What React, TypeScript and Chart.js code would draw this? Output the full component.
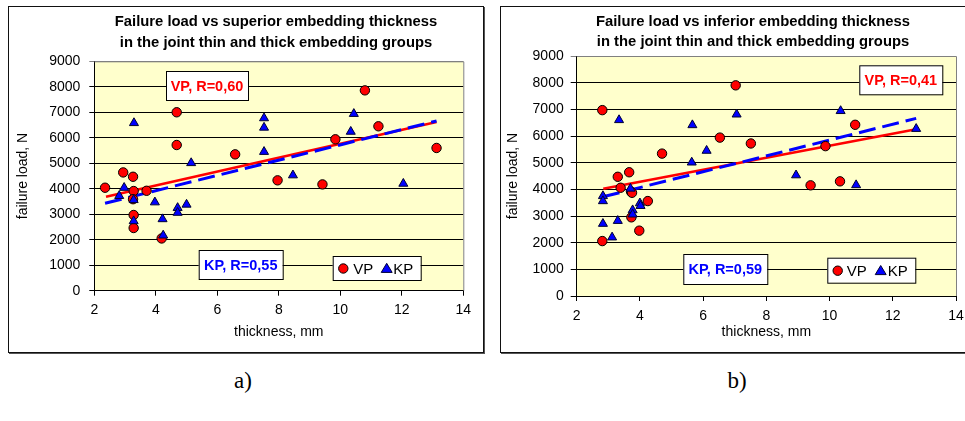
import React, { useEffect, useRef } from "react";
import { Chart, registerables } from "chart.js";

Chart.register(...registerables);

// ---------- shared axis ----------
const xMin = 2;
const xMax = 14;
const xStep = 2;
const yMin = 0;
const yMax = 9000;
const yStep = 1000;

// ---------- a) superior embedding thickness ----------
const supVpThickness = [2.35, 2.94, 3.26, 3.28, 3.26, 3.28, 3.28, 3.7, 4.19, 4.68, 4.68, 6.58, 7.96, 9.42, 9.84, 10.8, 11.24, 13.13];
const supVpLoad = [4040, 4640, 4470, 3910, 3590, 2970, 2460, 3920, 2050, 7000, 5716, 5350, 4330, 4170, 5940, 7860, 6450, 5600];
const supKpThickness = [3.29, 7.52, 7.52, 7.52, 10.44, 10.34, 2.81, 2.97, 3.28, 3.28, 3.97, 4.22, 4.24, 4.71, 4.71, 5.0, 5.15, 8.46, 12.05];
const supKpLoad = [6580, 6770, 6400, 5450, 6940, 6240, 3720, 4040, 3560, 2730, 3470, 2810, 2170, 3250, 3060, 3380, 5010, 4530, 4200];
const supVpTrendX = [2.38, 13.13];
const supVpTrendY = [3690, 6620];
const supKpTrendX = [2.35, 13.13];
const supKpTrendY = [3430, 6660];

// ---------- b) inferior embedding thickness ----------
const infVpThickness = [2.81, 7.03, 6.53, 7.51, 4.7, 10.81, 9.87, 3.3, 3.66, 3.39, 3.72, 3.75, 3.73, 3.98, 4.25, 2.81, 9.4, 10.33];
const infVpLoad = [6970, 7900, 5940, 5720, 5340, 6420, 5620, 4470, 4640, 4060, 3910, 3870, 2950, 2450, 3560, 2060, 4150, 4300];
const infKpThickness = [3.34, 5.66, 6.11, 7.06, 10.35, 12.74, 5.64, 2.83, 2.83, 2.83, 3.12, 3.3, 3.7, 3.77, 3.77, 4.0, 4.02, 8.94, 10.84];
const infKpLoad = [6600, 6410, 5450, 6810, 6940, 6270, 5010, 3750, 3560, 2710, 2200, 2820, 4030, 3220, 3060, 3480, 3380, 4530, 4160];
const infVpTrendX = [2.84, 12.74];
const infVpTrendY = [4020, 6250];
const infKpTrendX = [2.83, 12.74];
const infKpTrendY = [3720, 6660];

const titleA = ["Failure load vs superior embedding thickness", "in the joint thin and thick embedding groups"];
const titleB = ["Failure load vs inferior embedding thickness", "in the joint thin and thick embedding groups"];
const yAxisTitle = "failure load, N";
const xAxisTitle = "thickness, mm";
const vpLabel = "VP";
const kpLabel = "KP";
const noteVpA = "VP, R=0,60";
const noteKpA = "KP, R=0,55";
const noteVpB = "VP, R=0,41";
const noteKpB = "KP, R=0,59";

const SANS = "'Liberation Sans', Arial, sans-serif";

const zip = (xs: number[], ys: number[]) => xs.map((x, i) => ({ x, y: ys[i] }));

type Box = { x: number; y: number; w: number; h: number };
type Decor = {
  title: string[];
  titleX: number;
  titleY: number[];
  yTitleX: number;
  xTitleY: number;
  vpNote: string;
  vpBox: Box;
  kpNote: string;
  kpBox: Box;
  legend: Box;
  legendCircle: number;
  legendVpText: number;
  legendTri: number;
  legendKpText: number;
};

function drawTriangle(ctx: CanvasRenderingContext2D, cx: number, cy: number, r: number) {
  ctx.beginPath();
  ctx.moveTo(cx, cy - r);
  ctx.lineTo(cx + r * 1.05, cy + r * 0.75);
  ctx.lineTo(cx - r * 1.05, cy + r * 0.75);
  ctx.closePath();
  ctx.fillStyle = "#0000FF";
  ctx.fill();
  ctx.strokeStyle = "#000033";
  ctx.lineWidth = 1;
  ctx.stroke();
}

const decorPlugin = {
  id: "decor",
  beforeDraw(chart: any) {
    const { ctx, chartArea: a } = chart;
    ctx.save();
    ctx.fillStyle = "#FFFFCC";
    ctx.fillRect(a.left, a.top, a.right - a.left, a.bottom - a.top);
    ctx.restore();
  },
  beforeDatasetsDraw(chart: any) {
    const { ctx, chartArea: a } = chart;
    ctx.save();
    ctx.strokeStyle = "#808080";
    ctx.lineWidth = 1;
    ctx.beginPath();
    ctx.moveTo(a.left, a.top + 0.5);
    ctx.lineTo(a.right + 0.5, a.top + 0.5);
    ctx.lineTo(a.right + 0.5, a.bottom);
    ctx.stroke();
    ctx.restore();
  },
  afterDraw(chart: any, _args: any, opts: Decor) {
    const { ctx, chartArea: a } = chart;
    ctx.save();
    // title
    ctx.fillStyle = "#000";
    ctx.textAlign = "center";
    ctx.textBaseline = "middle";
    ctx.font = `bold 14.8px ${SANS}`;
    opts.title.forEach((line, i) => ctx.fillText(line, opts.titleX, opts.titleY[i]));
    // axis titles
    ctx.font = `14px ${SANS}`;
    ctx.fillText(xAxisTitle, (a.left + a.right) / 2, opts.xTitleY);
    ctx.save();
    ctx.translate(opts.yTitleX, (a.top + a.bottom) / 2);
    ctx.rotate(-Math.PI / 2);
    ctx.fillText(yAxisTitle, 0, 0);
    ctx.restore();
    // notes
    const note = (text: string, b: Box, color: string) => {
      ctx.fillStyle = "#fff";
      ctx.fillRect(b.x, b.y, b.w, b.h);
      ctx.strokeStyle = "#000";
      ctx.lineWidth = 1;
      ctx.strokeRect(b.x + 0.5, b.y + 0.5, b.w, b.h);
      ctx.fillStyle = color;
      ctx.font = `bold 14.5px ${SANS}`;
      ctx.textAlign = "center";
      ctx.fillText(text, b.x + b.w / 2, b.y + b.h / 2 + 1);
    };
    note(opts.vpNote, opts.vpBox, "#FF0000");
    note(opts.kpNote, opts.kpBox, "#0000FF");
    // legend
    const L = opts.legend;
    ctx.fillStyle = "#fff";
    ctx.fillRect(L.x, L.y, L.w, L.h);
    ctx.strokeStyle = "#000";
    ctx.lineWidth = 1;
    ctx.strokeRect(L.x + 0.5, L.y + 0.5, L.w, L.h);
    const cy = L.y + L.h / 2 + 0.5;
    ctx.beginPath();
    ctx.arc(opts.legendCircle, cy, 4.7, 0, Math.PI * 2);
    ctx.fillStyle = "#FF0000";
    ctx.fill();
    ctx.strokeStyle = "#000";
    ctx.stroke();
    drawTriangle(ctx, opts.legendTri, cy, 5.2);
    ctx.fillStyle = "#000";
    ctx.font = `15px ${SANS}`;
    ctx.textAlign = "left";
    ctx.fillText(vpLabel, opts.legendVpText, cy + 1);
    ctx.fillText(kpLabel, opts.legendKpText, cy + 1);
    ctx.restore();
  },
};

type Props = {
  vpX: number[];
  vpY: number[];
  kpX: number[];
  kpY: number[];
  vpTX: number[];
  vpTY: number[];
  kpTX: number[];
  kpTY: number[];
  padding: { left: number; top: number; right: number; bottom: number };
  yWidth: number;
  xHeight: number;
  yTickLen: number;
  yTickPad: number;
  xTickPad: number;
  decor: Decor;
};

function ScatterPanel(p: Props) {
  const ref = useRef<HTMLCanvasElement>(null);
  useEffect(() => {
    if (!ref.current) return;
    const chart = new Chart(ref.current, {
      type: "scatter",
      data: {
        datasets: [
          {
            label: kpLabel,
            data: zip(p.kpX, p.kpY),
            pointStyle: "triangle",
            pointRadius: 5.2,
            backgroundColor: "#0000FF",
            borderColor: "#000033",
            borderWidth: 1,
            order: 0,
          },
          {
            label: vpLabel,
            data: zip(p.vpX, p.vpY),
            pointStyle: "circle",
            pointRadius: 4.7,
            backgroundColor: "#FF0000",
            borderColor: "#000000",
            borderWidth: 1,
            order: 1,
          },
          {
            type: "line",
            label: "KP trend",
            data: zip(p.kpTX, p.kpTY),
            borderColor: "#0000FF",
            borderWidth: 3,
            borderDash: [17, 7],
            pointRadius: 0,
            fill: false,
            order: 2,
          },
          {
            type: "line",
            label: "VP trend",
            data: zip(p.vpTX, p.vpTY),
            borderColor: "#FF0000",
            borderWidth: 2.6,
            pointRadius: 0,
            fill: false,
            order: 3,
          },
        ] as any,
      },
      options: {
        animation: false,
        responsive: false,
        maintainAspectRatio: false,
        layout: { padding: p.padding },
        plugins: {
          legend: { display: false },
          title: { display: false },
          tooltip: { enabled: false },
          decor: p.decor,
        } as any,
        scales: {
          x: {
            type: "linear",
            min: xMin,
            max: xMax,
            afterFit: (s: any) => {
              s.height = p.xHeight;
            },
            ticks: {
              stepSize: xStep,
              autoSkip: false,
              maxRotation: 0,
              padding: p.xTickPad,
              color: "#000",
              font: { family: SANS, size: 14 },
              callback: (v: any) => String(v),
            },
            grid: { drawOnChartArea: false, drawTicks: true, tickLength: 5, color: "#000" },
            border: { display: true, color: "#000", width: 1 },
          },
          y: {
            type: "linear",
            min: yMin,
            max: yMax,
            afterFit: (s: any) => {
              s.width = p.yWidth;
            },
            ticks: {
              stepSize: yStep,
              padding: p.yTickPad,
              color: "#000",
              font: { family: SANS, size: 14 },
              callback: (v: any) => String(v),
            },
            grid: {
              color: (c: any) => (c.tick && c.tick.value === yMax ? "#808080" : "#000"),
              drawTicks: true,
              tickLength: p.yTickLen,
              lineWidth: 1,
            },
            border: { display: true, color: "#000", width: 1 },
          },
        },
      } as any,
      plugins: [decorPlugin],
    });
    return () => chart.destroy();
  }, []);
  return <canvas ref={ref} width={474} height={345} style={{ display: "block", width: 474, height: 345 }} />;
}

const frame: React.CSSProperties = {
  position: "absolute",
  top: 6,
  width: 474,
  height: 345,
  border: "1px solid #111",
  boxShadow: "1px 1px 0 #555",
  background: "#fff",
};

const caption: React.CSSProperties = {
  position: "absolute",
  top: 368,
  transform: "translateX(-50%)",
  fontFamily: "'Liberation Serif', 'Times New Roman', serif",
  fontSize: 23,
  color: "#000",
  whiteSpace: "nowrap",
};

export default function App() {
  return (
    <div
      style={{
        position: "absolute",
        left: 0,
        top: 0,
        width: 965,
        height: 421,
        overflow: "hidden",
        background: "#fff",
      }}
    >
      <div style={{ ...frame, left: 8 }}>
        <ScatterPanel
          vpX={supVpThickness}
          vpY={supVpLoad}
          kpX={supKpThickness}
          kpY={supKpLoad}
          vpTX={supVpTrendX}
          vpTY={supVpTrendY}
          kpTX={supKpTrendX}
          kpTY={supKpTrendY}
          padding={{ left: 0, top: 54.3, right: 19.7, bottom: 0 }}
          yWidth={85.3}
          xHeight={61.3}
          yTickLen={5}
          yTickPad={9}
          xTickPad={6}
          decor={{
            title: titleA,
            titleX: 267,
            titleY: [15, 35.7],
            yTitleX: 14.5,
            xTitleY: 325,
            vpNote: noteVpA,
            vpBox: { x: 157, y: 64, w: 82, h: 29 },
            kpNote: noteKpA,
            kpBox: { x: 189.7, y: 243, w: 84, h: 29 },
            legend: { x: 323.7, y: 249, w: 88, h: 24 },
            legendCircle: 334.3,
            legendVpText: 344.3,
            legendTri: 377.7,
            legendKpText: 384.3,
          }}
        />
      </div>
      <div style={{ ...frame, left: 500 }}>
        <ScatterPanel
          vpX={infVpThickness}
          vpY={infVpLoad}
          kpX={infKpThickness}
          kpY={infKpLoad}
          vpTX={infVpTrendX}
          vpTY={infVpTrendY}
          kpTX={infKpTrendX}
          kpTY={infKpTrendY}
          padding={{ left: 0, top: 49, right: 19, bottom: 0 }}
          yWidth={75.7}
          xHeight={56}
          yTickLen={6}
          yTickPad={7}
          xTickPad={7}
          decor={{
            title: titleB,
            titleX: 252,
            titleY: [15, 35],
            yTitleX: 12.5,
            xTitleY: 325,
            vpNote: noteVpB,
            vpBox: { x: 358.3, y: 58.3, w: 83, h: 29 },
            kpNote: noteKpB,
            kpBox: { x: 182.3, y: 247, w: 84, h: 30 },
            legend: { x: 326.3, y: 250.7, w: 88, h: 25 },
            legendCircle: 336.7,
            legendVpText: 345.7,
            legendTri: 379.7,
            legendKpText: 386.7,
          }}
        />
      </div>
      <div style={{ ...caption, left: 243 }}>a)</div>
      <div style={{ ...caption, left: 737 }}>b)</div>
    </div>
  );
}
